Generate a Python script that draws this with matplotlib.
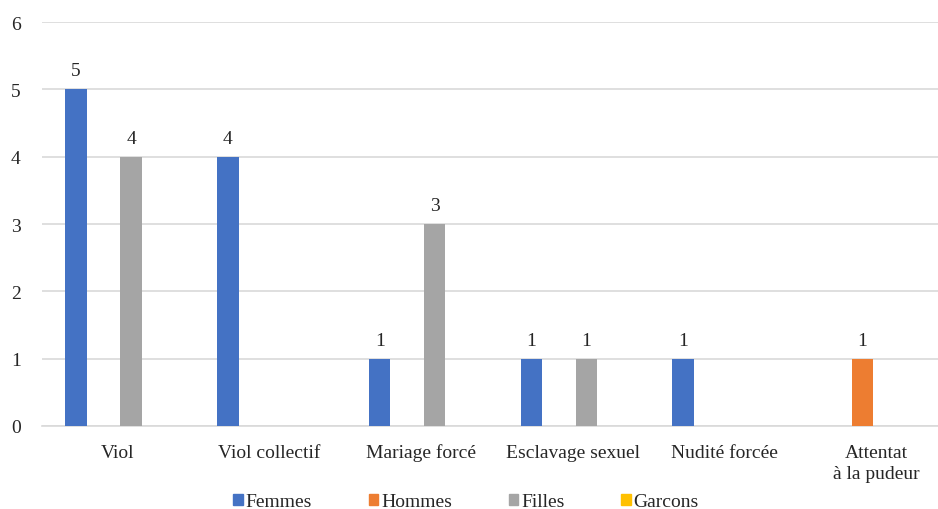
import numpy as np
import matplotlib.pyplot as plt
from matplotlib.patches import Patch

plt.rcParams["font.family"] = ["Liberation Serif", "DejaVu Serif"]

categories = ["Viol", "Viol collectif", "Mariage forcé", "Esclavage sexuel",
              "Nudité forcée", "Attentat\nà la pudeur"]
series = ["Femmes", "Hommes", "Filles", "Garcons"]
femmes = [5, 4, 1, 1, 1, 0]
hommes = [0, 0, 0, 0, 0, 1]
filles = [4, 0, 3, 1, 0, 0]
garcons = [0, 0, 0, 0, 0, 0]
colors = ["#4472c4", "#ed7d31", "#a5a5a5", "#ffc000"]
txt = "#262626"

fig = plt.figure(figsize=(9.38, 5.10), dpi=100)
ax = fig.add_axes([41.5 / 938, 83 / 510, 910.5 / 938, 404 / 510])

x = np.arange(len(categories))
slot = 0.181
width = 0.142
for i, (name, vals) in enumerate(zip(series, [femmes, hommes, filles, garcons])):
    pos = x + (i - 1.5) * slot
    ax.bar(pos, vals, width=width, color=colors[i], zorder=3)
    for px, v in zip(pos, vals):
        if v > 0:
            ax.text(px, v + 0.15, str(v), ha="center", va="bottom",
                    fontsize=14, color=txt)

ax.set_xlim(-0.5, len(categories) - 0.5)
ax.set_ylim(0, 6)
ax.set_yticks(range(7))
ax.grid(axis="y", color="#d9d9d9", linewidth=1.2, zorder=0)
for s in ["top", "right", "left"]:
    ax.spines[s].set_visible(False)
ax.spines["bottom"].set_color("#d9d9d9")
ax.spines["bottom"].set_linewidth(1.2)
ax.tick_params(axis="both", length=0, labelsize=14, colors=txt)
ax.tick_params(axis="y", pad=15)
ax.set_xticks(x)
ax.set_xticklabels([])

# category names on a shared baseline, 31 px under the axis
for xi, name in zip(x, categories):
    lines = name.split("\n")
    for k, line in enumerate(lines):
        ax.annotate(line, (xi, 0), xycoords=("data", "axes fraction"),
                    xytext=(0, -31 - 21.5 * k), textcoords="offset pixels",
                    ha="center", va="baseline", fontsize=14, color=txt)

handles = [Patch(color=c, label=n) for c, n in zip(colors, series)]
leg = fig.legend(handles=handles, loc="center", bbox_to_anchor=(466 / 938, 1 - 503 / 510),
                 ncol=4, frameon=False, fontsize=14, handlelength=0.5, handleheight=0.5,
                 handletextpad=0.15, columnspacing=2.9)
for t in leg.get_texts():
    t.set_color(txt)

fig.savefig("out.png", dpi=100)
